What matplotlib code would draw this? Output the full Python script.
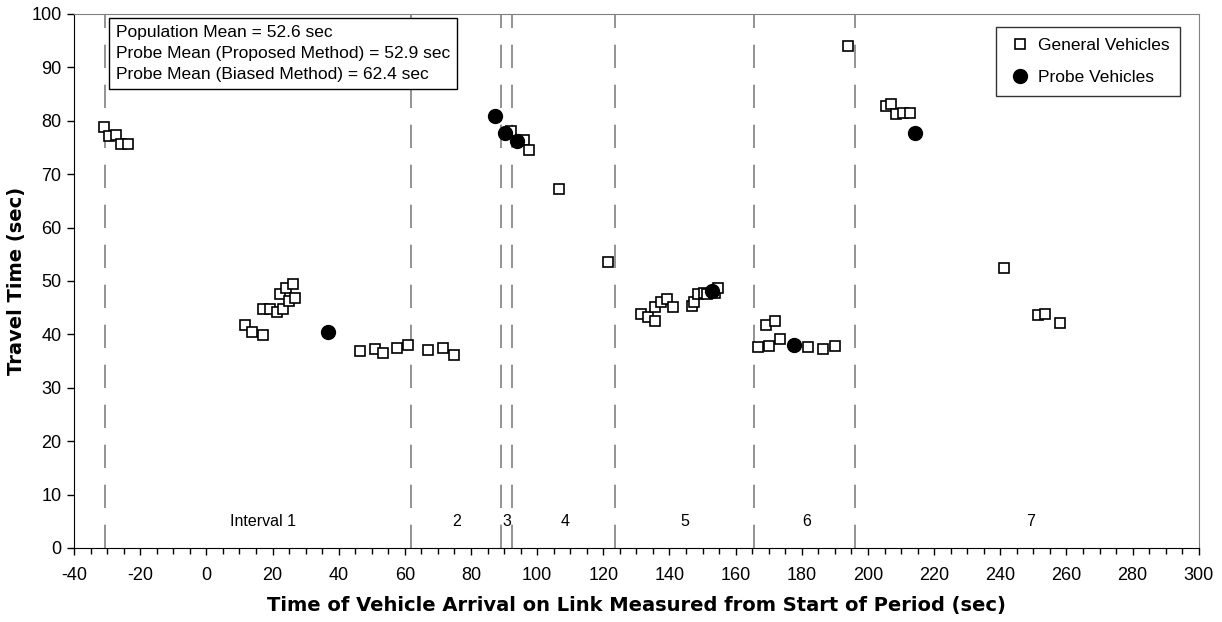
import matplotlib
matplotlib.use("Agg")
import matplotlib.pyplot as plt
from matplotlib.ticker import MultipleLocator

plt.rcParams['font.family'] = ['Liberation Sans', 'DejaVu Sans']
plt.rcParams['axes.unicode_minus'] = False

# General vehicles: arrival time (sec) and travel time (sec)
general_x = [-31.0, -29.3, -27.3, -25.8, -23.7,
             11.8, 13.8, 17.2, 17.2, 19.2, 21.2, 22.2, 23.2, 24.2, 25.0, 26.3, 26.9,
             46.4, 51.0, 53.4, 57.5, 61.0, 66.9, 71.4, 74.9,
             92.2, 96.0, 97.6, 106.6, 121.3,
             131.5, 133.6, 135.5, 135.5, 137.3, 139.2, 141.1, 146.9, 147.4, 148.7,
             150.3, 151.3, 153.7, 154.8,
             166.8, 170.0, 169.1, 171.8, 173.3, 181.8, 186.4, 190.0,
             193.9, 205.3, 207.0, 208.5, 210.5, 212.6, 241.0, 251.5, 253.5, 258.0]
general_y = [78.9, 77.2, 77.3, 75.6, 75.6,
             41.8, 40.4, 39.9, 44.8, 44.8, 44.1, 47.6, 44.8, 48.6, 46.2, 49.4, 46.9,
             36.8, 37.3, 36.5, 37.4, 38.0, 37.1, 37.4, 36.1,
             78.1, 76.4, 74.5, 67.2, 53.6,
             43.8, 43.2, 42.6, 45.2, 46.1, 46.6, 45.1, 45.4, 46.1, 47.6,
             47.7, 47.6, 47.7, 48.6,
             37.7, 37.8, 41.8, 42.6, 39.1, 37.6, 37.2, 37.8,
             94.1, 82.8, 83.1, 81.3, 81.4, 81.4, 52.5, 43.6, 43.9, 42.2]

# Probe vehicles
probe_x = [36.8, 87.2, 90.4, 93.9, 152.8, 177.5, 214.1]
probe_y = [40.4, 80.9, 77.8, 76.3, 48.2, 38.0, 77.7]

# Interval boundaries and labels
boundaries = [-30.5, 62.0, 89.0, 92.5, 123.5, 165.5, 196.0]
interval_labels = ["Interval 1", "2", "3", "4", "5", "6", "7"]
interval_label_x = [17.0, 75.5, 90.8, 108.5, 144.5, 181.5, 249.0]

stats_text = ["Population Mean = 52.6 sec",
              "Probe Mean (Proposed Method) = 52.9 sec",
              "Probe Mean (Biased Method) = 62.4 sec"]

fig = plt.figure(figsize=(12.22, 6.22), dpi=100)
ax = fig.add_axes([0.0606, 0.119, 0.9204, 0.8585])

for b in boundaries:
    ax.axvline(b, color='#808080', lw=1.2, dashes=(14, 10), zorder=1)

ax.plot(general_x, general_y, ls='none', marker='s', ms=7, mfc='white',
        mec='black', mew=1.2, label='General Vehicles', zorder=3)
ax.plot(probe_x, probe_y, ls='none', marker='o', ms=10, mfc='black',
        mec='black', label='Probe Vehicles', zorder=4)

for lab, lx in zip(interval_labels, interval_label_x):
    ax.text(lx, 5, lab, ha='center', va='center', fontsize=11.5)

ax.text(-27.3, 98.0, "\n".join(stats_text), ha='left', va='top', fontsize=12.5,
        linespacing=1.5,
        bbox=dict(boxstyle='square,pad=0.4', fc='white', ec='black', lw=1))

ax.set_xlim(-40, 300)
ax.set_ylim(0, 100)
ax.xaxis.set_major_locator(MultipleLocator(20))
ax.xaxis.set_minor_locator(MultipleLocator(5))
ax.yaxis.set_major_locator(MultipleLocator(10))
ax.tick_params(axis='both', which='both', direction='out', labelsize=13, width=1)
ax.tick_params(axis='x', which='major', length=5, pad=9)
ax.tick_params(axis='x', which='minor', length=4)
ax.tick_params(axis='y', which='major', length=5, pad=4)

for side in ['top', 'right']:
    ax.spines[side].set_color('#808080')
for side in ['left', 'bottom']:
    ax.spines[side].set_color('black')

title_font = dict(family=['DejaVu Sans'], size=14, weight='bold')
ax.set_xlabel("Time of Vehicle Arrival on Link Measured from Start of Period (sec)",
              fontdict=title_font, labelpad=8)
ax.set_ylabel("Travel Time (sec)", fontdict=title_font)
ax.yaxis.set_label_coords(-0.043, 0.5)

leg = ax.legend(loc='upper right', bbox_to_anchor=(0.983, 0.975), fontsize=12.5,
                frameon=True, fancybox=False, edgecolor='black', labelspacing=1.0,
                handletextpad=0.2, handlelength=1.6, borderpad=0.6,
                borderaxespad=0)
leg.get_frame().set_linewidth(1)

fig.savefig("out.png", dpi=100)
